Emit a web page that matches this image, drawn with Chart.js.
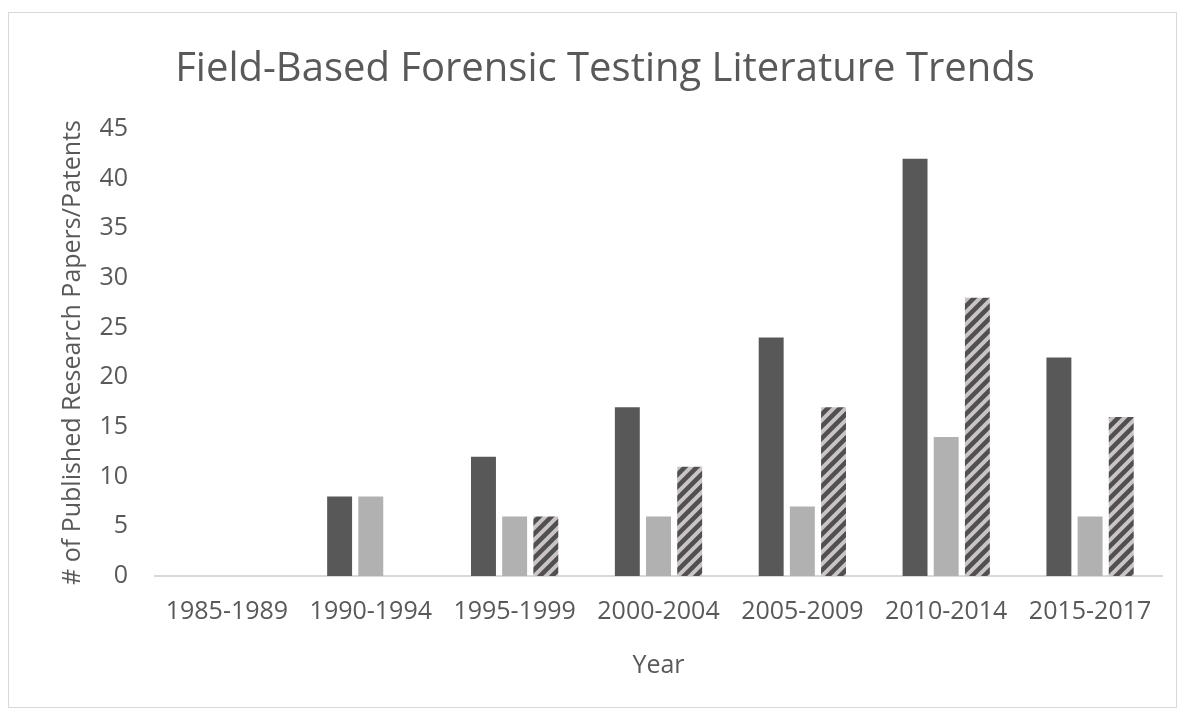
<!DOCTYPE html>
<html>
<head>
<meta charset="utf-8">
<script src="https://cdn.jsdelivr.net/npm/chart.js@4.4.1/dist/chart.umd.min.js"></script>
<style>
  html, body { margin: 0; padding: 0; background: #fff; }
  #wrap { position: relative; width: 1185px; height: 715px; }
  #frame { position: absolute; left: 8px; top: 12px; width: 1167px; height: 694px; border: 1px solid #d9d9d9; }
  canvas { position: absolute; left: 0; top: 0; }
</style>
</head>
<body>
<div id="wrap">
  <div id="frame"></div>
  <canvas id="mainChart" width="1185" height="715"></canvas>
</div>
<script>
const years = ['1985-1989', '1990-1994', '1995-1999', '2000-2004', '2005-2009', '2010-2014', '2015-2017'];
const serie1 = [0, 8, 12, 17, 24, 42, 22];
const serie2 = [0, 8, 6, 6, 7, 14, 6];
const serie3 = [0, 0, 6, 11, 17, 28, 16];
const yTicks = [0, 5, 10, 15, 20, 25, 30, 35, 40, 45];

// hachure diagonale pour la 3e serie
function makeHatch() {
    const c = document.createElement('canvas');
    c.width = 12; c.height = 12;
    const g = c.getContext('2d');
    g.fillStyle = '#cbc4c4';
    g.fillRect(0, 0, 12, 12);
    g.strokeStyle = '#505050';
    g.lineWidth = 4.5;
    g.beginPath();
    g.moveTo(-3, 15); g.lineTo(15, -3);
    g.moveTo(-9, 9); g.lineTo(9, -9);
    g.moveTo(3, 21); g.lineTo(21, 3);
    g.stroke();
    return g.createPattern(c, 'repeat');
}

const fontFam = '"Open Sans", sans-serif';
const txtColor = '#595959';

const ctxBar = document.getElementById('mainChart').getContext('2d');
const barChart = new Chart(ctxBar, {
    type: 'bar',
    data: {
        labels: years,
        datasets: [
            { label: 'A', data: serie1, backgroundColor: '#585858' },
            { label: 'B', data: serie2, backgroundColor: '#b1b1b1' },
            { label: 'C', data: serie3, backgroundColor: makeHatch() }
        ]
    },
    options: {
        responsive: false,
        animation: false,
        devicePixelRatio: 1,
        categoryPercentage: 0.65,
        barPercentage: 0.8,
        layout: { padding: { left: 25, right: 0, top: 0, bottom: 0 } },
        scales: {
            x: {
                grid: { display: false, drawTicks: false },
                border: { display: true, color: '#d9d9d9', width: 2 },
                ticks: { color: txtColor, font: { family: fontFam, size: 25 }, padding: 21, maxRotation: 0, autoSkip: false },
                title: { display: true, text: 'Year', color: txtColor, font: { family: fontFam, size: 25 }, padding: { top: 18, bottom: 34 } },
                afterFit: function(s) { s.height = 139; }
            },
            y: {
                min: 0,
                max: 45,
                grid: { display: false, drawTicks: false },
                border: { display: false },
                afterBuildTicks: function(s) { s.ticks = yTicks.map(v => ({ value: v })); },
                ticks: { color: txtColor, font: { family: fontFam, size: 25 }, padding: 27 },
                title: { display: true, text: '# of Published Research Papers/Patents', color: txtColor, font: { family: fontFam, size: 25 }, padding: { top: 33, bottom: 0 } },
                afterFit: function(s) { s.width = 130; }
            },
            // axe vide a droite, juste pour la marge
            yRight: {
                position: 'right',
                grid: { display: false, drawTicks: false },
                border: { display: false },
                ticks: { display: false },
                afterFit: function(s) { s.width = 23; }
            }
        },
        plugins: {
            title: {
                display: true,
                text: 'Field-Based Forensic Testing Literature Trends',
                color: txtColor,
                font: { family: fontFam, size: 40, weight: 'normal' },
                padding: { top: 46, bottom: 35 }
            },
            legend: { display: false },
            tooltip: { enabled: false }
        }
    }
});
</script>
</body>
</html>
